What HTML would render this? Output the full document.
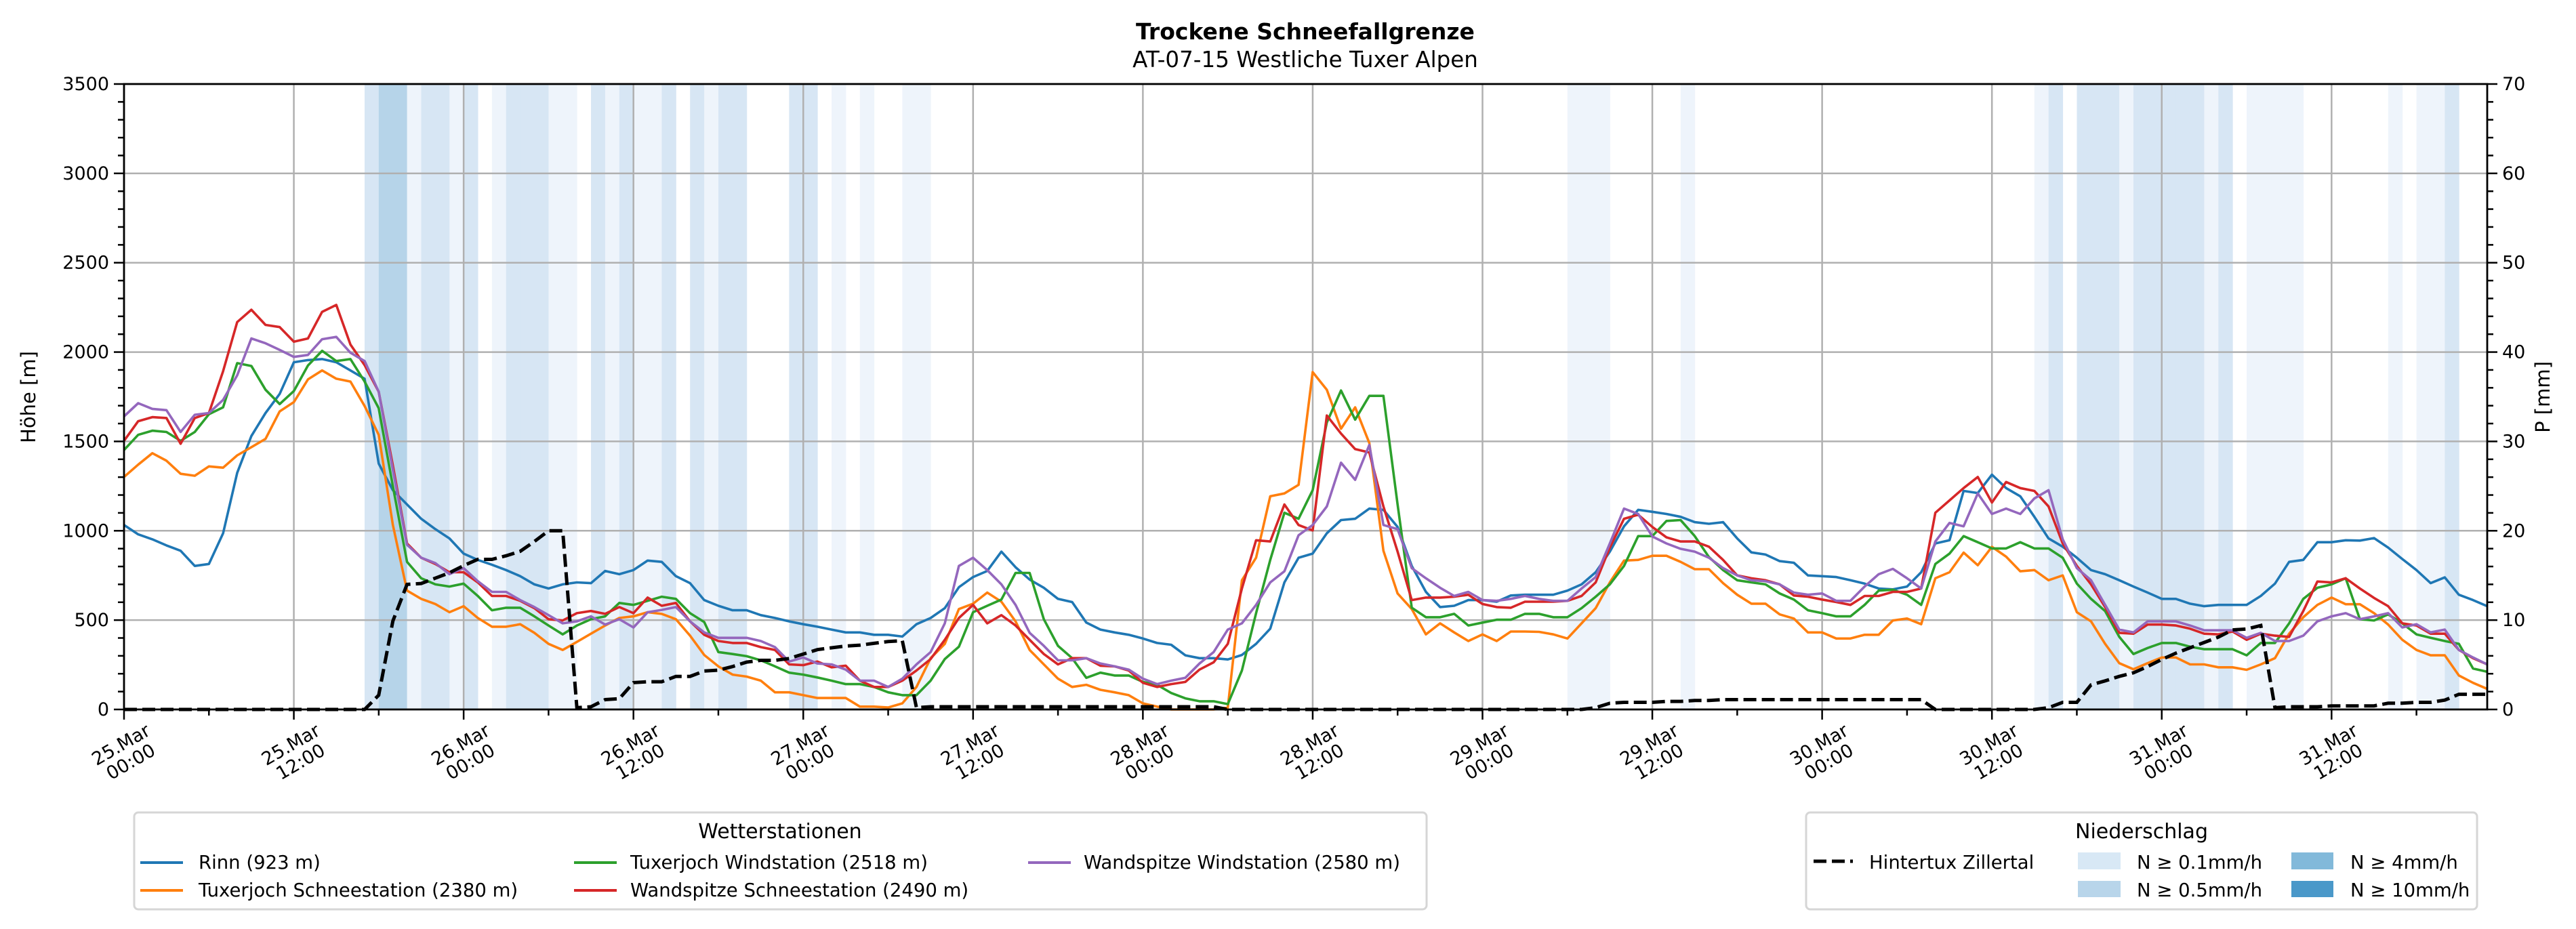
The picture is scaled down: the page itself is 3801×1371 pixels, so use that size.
<!DOCTYPE html>
<html><head><meta charset="utf-8">
<style>
html,body{margin:0;padding:0;background:#fff;}
svg{display:block;font-family:"DejaVu Sans","Liberation Sans",sans-serif;}
</style></head>
<body>
<svg id="chart" xmlns="http://www.w3.org/2000/svg" width="3801" height="1371" viewBox="0 0 3801 1371">
<rect x="0" y="0" width="3801" height="1371" fill="#fff"/>
<text x="1926" y="58" text-anchor="middle" font-size="33" font-weight="bold">Trockene Schneefallgrenze</text>
<text x="1926" y="99" text-anchor="middle" font-size="32.5">AT-07-15 Westliche Tuxer Alpen</text>
<g id="bands"></g>
<g id="grid"></g>
<g id="series"></g>
<g id="axes"></g>
<text transform="translate(52,586) rotate(-90)" text-anchor="middle" font-size="29">Höhe [m]</text>
<text transform="translate(3762,586) rotate(-90)" text-anchor="middle" font-size="29">P [mm]</text>

<g>
<rect x="198" y="1199" width="1907" height="143" rx="6" fill="#fff" stroke="#d6d6d6" stroke-width="3"/>
<text x="1151" y="1237" text-anchor="middle" font-size="30">Wetterstationen</text>
<g><line x1="207" y1="1273" x2="270" y2="1273" stroke="#1f77b4" stroke-width="4"/><text x="293" y="1282" font-size="27.5">Rinn (923 m)</text></g>
<g><line x1="207" y1="1314" x2="270" y2="1314" stroke="#ff7f0e" stroke-width="4"/><text x="293" y="1323" font-size="27.5">Tuxerjoch Schneestation (2380 m)</text></g>
<g><line x1="847" y1="1273" x2="910" y2="1273" stroke="#2ca02c" stroke-width="4"/><text x="930" y="1282" font-size="27.5">Tuxerjoch Windstation (2518 m)</text></g>
<g><line x1="847" y1="1314" x2="910" y2="1314" stroke="#d62728" stroke-width="4"/><text x="930" y="1323" font-size="27.5">Wandspitze Schneestation (2490 m)</text></g>
<g><line x1="1517" y1="1273" x2="1580" y2="1273" stroke="#9467bd" stroke-width="4"/><text x="1599" y="1282" font-size="27.5">Wandspitze Windstation (2580 m)</text></g>
</g>

<g>
<rect x="2665" y="1199" width="990" height="143" rx="6" fill="#fff" stroke="#d6d6d6" stroke-width="3"/>
<text x="3160" y="1237" text-anchor="middle" font-size="30">Niederschlag</text>
<g><line x1="2676" y1="1271" x2="2734" y2="1271" stroke="#000" stroke-width="5" stroke-dasharray="19,8"/><text x="2758" y="1282" font-size="27.5">Hintertux Zillertal</text></g>
<g><rect x="3066" y="1258" width="63" height="25" fill="#d8e8f5"/><text x="3153" y="1282" font-size="27.5">N ≥ 0.1mm/h</text></g>
<g><rect x="3066" y="1300" width="63" height="24" fill="#b8d5ea"/><text x="3153" y="1323" font-size="27.5">N ≥ 0.5mm/h</text></g>
<g><rect x="3381" y="1258" width="62" height="25" fill="#82b9da"/><text x="3468" y="1282" font-size="27.5">N ≥ 4mm/h</text></g>
<g><rect x="3381" y="1300" width="62" height="24" fill="#4a98c9"/><text x="3468" y="1323" font-size="27.5">N ≥ 10mm/h</text></g>
</g>
</svg>
<script>
const rinn=[1032,980,952,918,888,803,814,986,1324,1530,1659,1766,1943,1955,1961,1943,1897,1851,1376,1227,1147,1067,1009,957,872,837,810,780,746,700,677,700,711,707,775,757,780,833,826,746,707,612,580,
555,555,528,512,493,477,463,447,431,431,418,418,408,477,512,567,684,741,775,883,796,727,681,619,601,486,447,431,418,397,372,362,303,287,287,280,305,367,452,711,849,
872,986,1060,1067,1124,1117,1021,803,658,573,580,612,612,603,638,642,642,642,665,700,768,883,1025,1117,1106,1094,1078,1048,1039,1048,957,879,867,830,821,750,746,741,723,704,677,672,
688,768,929,947,1223,1211,1314,1239,1193,1078,957,911,849,780,757,723,688,654,619,619,592,578,585,585,585,635,704,826,837,936,936,947,945,959,906,842,780,707,739,642,612,578];
const tuxSchnee=[1301,1370,1434,1392,1319,1308,1360,1353,1422,1468,1514,1668,1720,1847,1897,1851,1835,1698,1537,1032,665,619,590,544,578,512,463,463,477,429,367,333,378,424,470,512,521,544,535,505,413,305,241,
195,184,161,96,96,80,64,64,64,16,16,11,34,126,287,367,562,592,654,603,493,333,252,172,126,138,110,96,80,34,16,0,0,0,0,11,723,849,1193,1209,1257,
1888,1789,1571,1691,1491,888,649,562,420,482,431,383,420,383,436,436,434,420,397,482,567,711,833,837,860,860,826,785,785,707,642,592,592,532,509,431,431,397,397,418,418,498,
509,477,734,768,878,807,910,855,773,780,723,750,544,493,367,259,225,259,291,291,252,252,236,236,222,252,287,424,516,585,626,589,589,539,475,390,333,303,303,190,149,115];
const tuxWind=[1452,1537,1560,1553,1503,1553,1652,1691,1938,1922,1789,1709,1782,1925,2007,1950,1961,1835,1686,1250,826,734,700,688,704,635,555,569,569,521,470,420,470,505,521,596,585,608,631,619,539,489,321,
310,298,275,241,206,195,179,161,142,142,126,96,80,80,161,282,351,544,580,615,764,764,505,356,287,177,206,190,190,154,138,92,62,46,46,30,218,539,837,1101,1067,
1227,1606,1785,1622,1755,1755,1147,569,516,516,535,470,486,502,502,535,535,516,516,567,631,700,803,970,970,1055,1060,970,853,780,723,711,700,649,615,555,539,521,521,585,665,670,
642,585,814,872,970,936,901,901,936,901,901,849,704,619,551,406,310,344,372,372,351,337,337,337,303,372,372,482,619,681,700,734,505,498,532,482,420,401,383,367,229,211];
const wandSchnee=[1503,1613,1636,1631,1487,1631,1659,1893,2168,2237,2152,2140,2058,2076,2225,2264,2042,1927,1778,1365,929,849,814,768,768,711,635,635,608,567,505,498,539,551,535,573,539,626,580,596,493,418,383,
372,372,349,333,252,248,268,236,245,161,126,126,161,218,282,390,512,585,482,528,470,390,310,252,287,287,245,241,218,149,126,142,154,223,264,367,677,947,940,1147,1032,
1002,1645,1544,1457,1438,1136,883,612,626,626,631,642,590,573,569,603,603,603,608,635,711,906,1067,1090,1021,963,940,940,911,837,750,734,723,700,638,631,615,601,585,635,635,658,
658,677,1101,1170,1239,1301,1158,1273,1239,1223,1136,929,803,700,573,429,424,475,475,470,452,424,420,436,390,424,413,406,551,716,711,734,677,624,578,482,470,424,424,333,287,252];
const wandWind=[1640,1714,1682,1675,1553,1649,1659,1732,1870,2076,2049,2012,1973,1984,2072,2085,1996,1950,1778,1342,922,849,819,757,791,718,658,658,612,573,528,482,493,521,475,505,459,544,557,573,493,431,401,
401,401,383,349,268,291,257,252,223,161,161,126,172,252,321,482,803,849,780,700,585,429,356,275,275,287,257,241,223,172,142,161,177,257,321,447,482,585,711,773,975,
1032,1136,1381,1285,1480,1032,1009,791,734,681,635,658,612,608,619,635,619,608,608,677,741,929,1124,1094,968,929,899,883,849,791,750,723,718,700,654,642,649,608,608,688,757,787,
734,677,940,1044,1025,1209,1094,1124,1094,1181,1227,952,791,723,585,447,431,493,493,493,470,443,443,443,401,429,383,383,413,493,521,539,505,521,539,459,477,431,447,333,291,252];
const hintertuxMm=[0,0,0,0,0,0,0,0,0,0,0,0,0,0,0,0,0,0,
1.6,9.9,14,14.1,14.7,15.3,16.1,16.8,16.8,17.2,17.7,18.8,20,20,
0.2,0.3,1.1,1.2,3.0,3.1,3.1,3.7,3.7,4.3,4.4,4.8,5.3,5.5,5.5,5.7,6.2,6.7,6.9,7.1,7.2,7.4,7.6,7.7,
0.2,0.3,0.3,0.3,0.3,0.3,0.3,0.3,0.3,0.3,0.3,0.3,0.3,0.3,0.3,0.3,0.3,0.3,0.3,0.3,0.3,0.3,
0,0,0,0,0,0,0,0,0,0,0,0,0,0,0,0,0,0,0,0,0,0,0,0,0,0,
0.2,0.7,0.8,0.8,0.8,0.9,0.9,1.0,1.0,1.1,1.1,1.1,1.1,1.1,1.1,1.1,1.1,1.1,1.1,1.1,1.1,1.1,1.1,1.1,
0,0,0,0,0,0,0,0,
0.2,0.8,0.8,2.75,3.2,3.7,4.1,4.8,5.6,6.3,6.9,7.5,8.1,8.9,9.0,9.4,
0.2,0.3,0.3,0.3,0.4,0.4,0.4,0.4,0.7,0.7,0.8,0.8,1.05,1.7,1.7,1.7];
const precipHour=[17,18,19,20,21,22,23,24,26,27,28,29,30,31,33,34,35,36,37,38,40,41,42,43,47,48,50,52,55,56,102,103,104,110,135,136,138,139,140,141,142,143,144,145,146,147,148,150,151,152,153,160,162,163,164];
const precipLevel=[2,3,3,1,2,2,1,2,1,2,2,2,1,1,2,1,2,1,1,2,2,1,2,2,2,2,1,1,1,1,1,1,1,1,1,2,2,2,2,1,2,2,2,2,2,1,2,1,1,1,1,1,1,1,2];
const xTickLabels=["25.Mar\n00:00","25.Mar\n12:00","26.Mar\n00:00","26.Mar\n12:00","27.Mar\n00:00","27.Mar\n12:00","28.Mar\n00:00","28.Mar\n12:00","29.Mar\n00:00","29.Mar\n12:00","30.Mar\n00:00","30.Mar\n12:00","31.Mar\n00:00","31.Mar\n12:00"];
const yTicks=[0,500,1000,1500,2000,2500,3000,3500];
const y2Ticks=[0,10,20,30,40,50,60,70];

const NS='http://www.w3.org/2000/svg';
const L=183,R=3670,T=124,B=1047,XMAX=167,YMAX=3500,Y2MAX=70;
const xs=h=>L+(R-L)*h/XMAX;
const ys=v=>B-(B-T)*v/YMAX;
const y2s=v=>B-(B-T)*v/Y2MAX;
function mk(tag,attrs,parent){const e=document.createElementNS(NS,tag);for(const k in attrs)e.setAttribute(k,attrs[k]);parent.appendChild(e);return e;}
const bandColors=['#ffffff','#eef4fb','#d7e6f4','#b6d4e9','#82b9da'];
const gB=document.getElementById('bands');
precipHour.forEach((h,i)=>{const r=mk('rect',{x:xs(h),y:T,width:xs(h+1)-xs(h)+0.5,height:B-T,fill:bandColors[precipLevel[i]]},gB);

});
const gG=document.getElementById('grid');
xTickLabels.forEach((t,i)=>{const l=mk('line',{x1:xs(i*12),x2:xs(i*12),y1:T,y2:B,stroke:'#b0b0b0','stroke-width':2.5},gG);

});
yTicks.forEach(v=>{const l=mk('line',{x1:L,x2:R,y1:ys(v),y2:ys(v),stroke:'#b0b0b0','stroke-width':2.5},gG);

});
const gS=document.getElementById('series');
function line(arr,color,name){const p=arr.map((v,i)=>(i?'L':'M')+xs(i).toFixed(1)+','+ys(v).toFixed(1)).join('');
const e=mk('path',{d:p,fill:'none',stroke:color,'stroke-width':3.6,'stroke-linejoin':'round'},gS);

}
line(rinn,'#1f77b4','series-rinn');
line(tuxSchnee,'#ff7f0e','series-tuxerjoch-schnee');
line(tuxWind,'#2ca02c','series-tuxerjoch-wind');
line(wandSchnee,'#d62728','series-wandspitze-schnee');
line(wandWind,'#9467bd','series-wandspitze-wind');
const dp=hintertuxMm.map((v,i)=>(i?'L':'M')+xs(i).toFixed(1)+','+y2s(v).toFixed(1)).join('');
const dl=mk('path',{d:dp,fill:'none',stroke:'#000','stroke-width':5,'stroke-dasharray':'19,8'},gS);


const gA=document.getElementById('axes');
const fr=mk('rect',{x:L,y:T,width:R-L,height:B-T,fill:'none',stroke:'#000','stroke-width':2.8},gA);


for(let h=0;h<=XMAX;h+=6){const major=h%12===0;const t=mk('line',{x1:xs(h),x2:xs(h),y1:B,y2:B+(major?15:9),stroke:'#000','stroke-width':2.5},gA);

}
xTickLabels.forEach((lab,i)=>{const x=xs(i*12);const tx=mk('text',{transform:`translate(${x},1107) rotate(-30)`,'text-anchor':'middle','font-size':27},gA);


lab.split('\n').forEach((s,j)=>{const ts=mk('tspan',{x:0,y:j?29:0},tx);ts.textContent=s;});});
for(let v=0;v<=YMAX;v+=100){const major=v%500===0;const t=mk('line',{x1:L-(major?15:9),x2:L,y1:ys(v),y2:ys(v),stroke:'#000','stroke-width':2.5},gA);


const t2=mk('line',{x1:R,x2:R+(major?15:9),y1:ys(v),y2:ys(v),stroke:'#000','stroke-width':2.5},gA);

}
yTicks.forEach(v=>{const tx=mk('text',{x:L-22,y:ys(v)+9,'text-anchor':'end','font-size':27},gA);tx.textContent=v;

});
y2Ticks.forEach(v=>{const tx=mk('text',{x:R+22,y:y2s(v)+9,'text-anchor':'start','font-size':27},gA);tx.textContent=v;

});
</script>
</body></html>
